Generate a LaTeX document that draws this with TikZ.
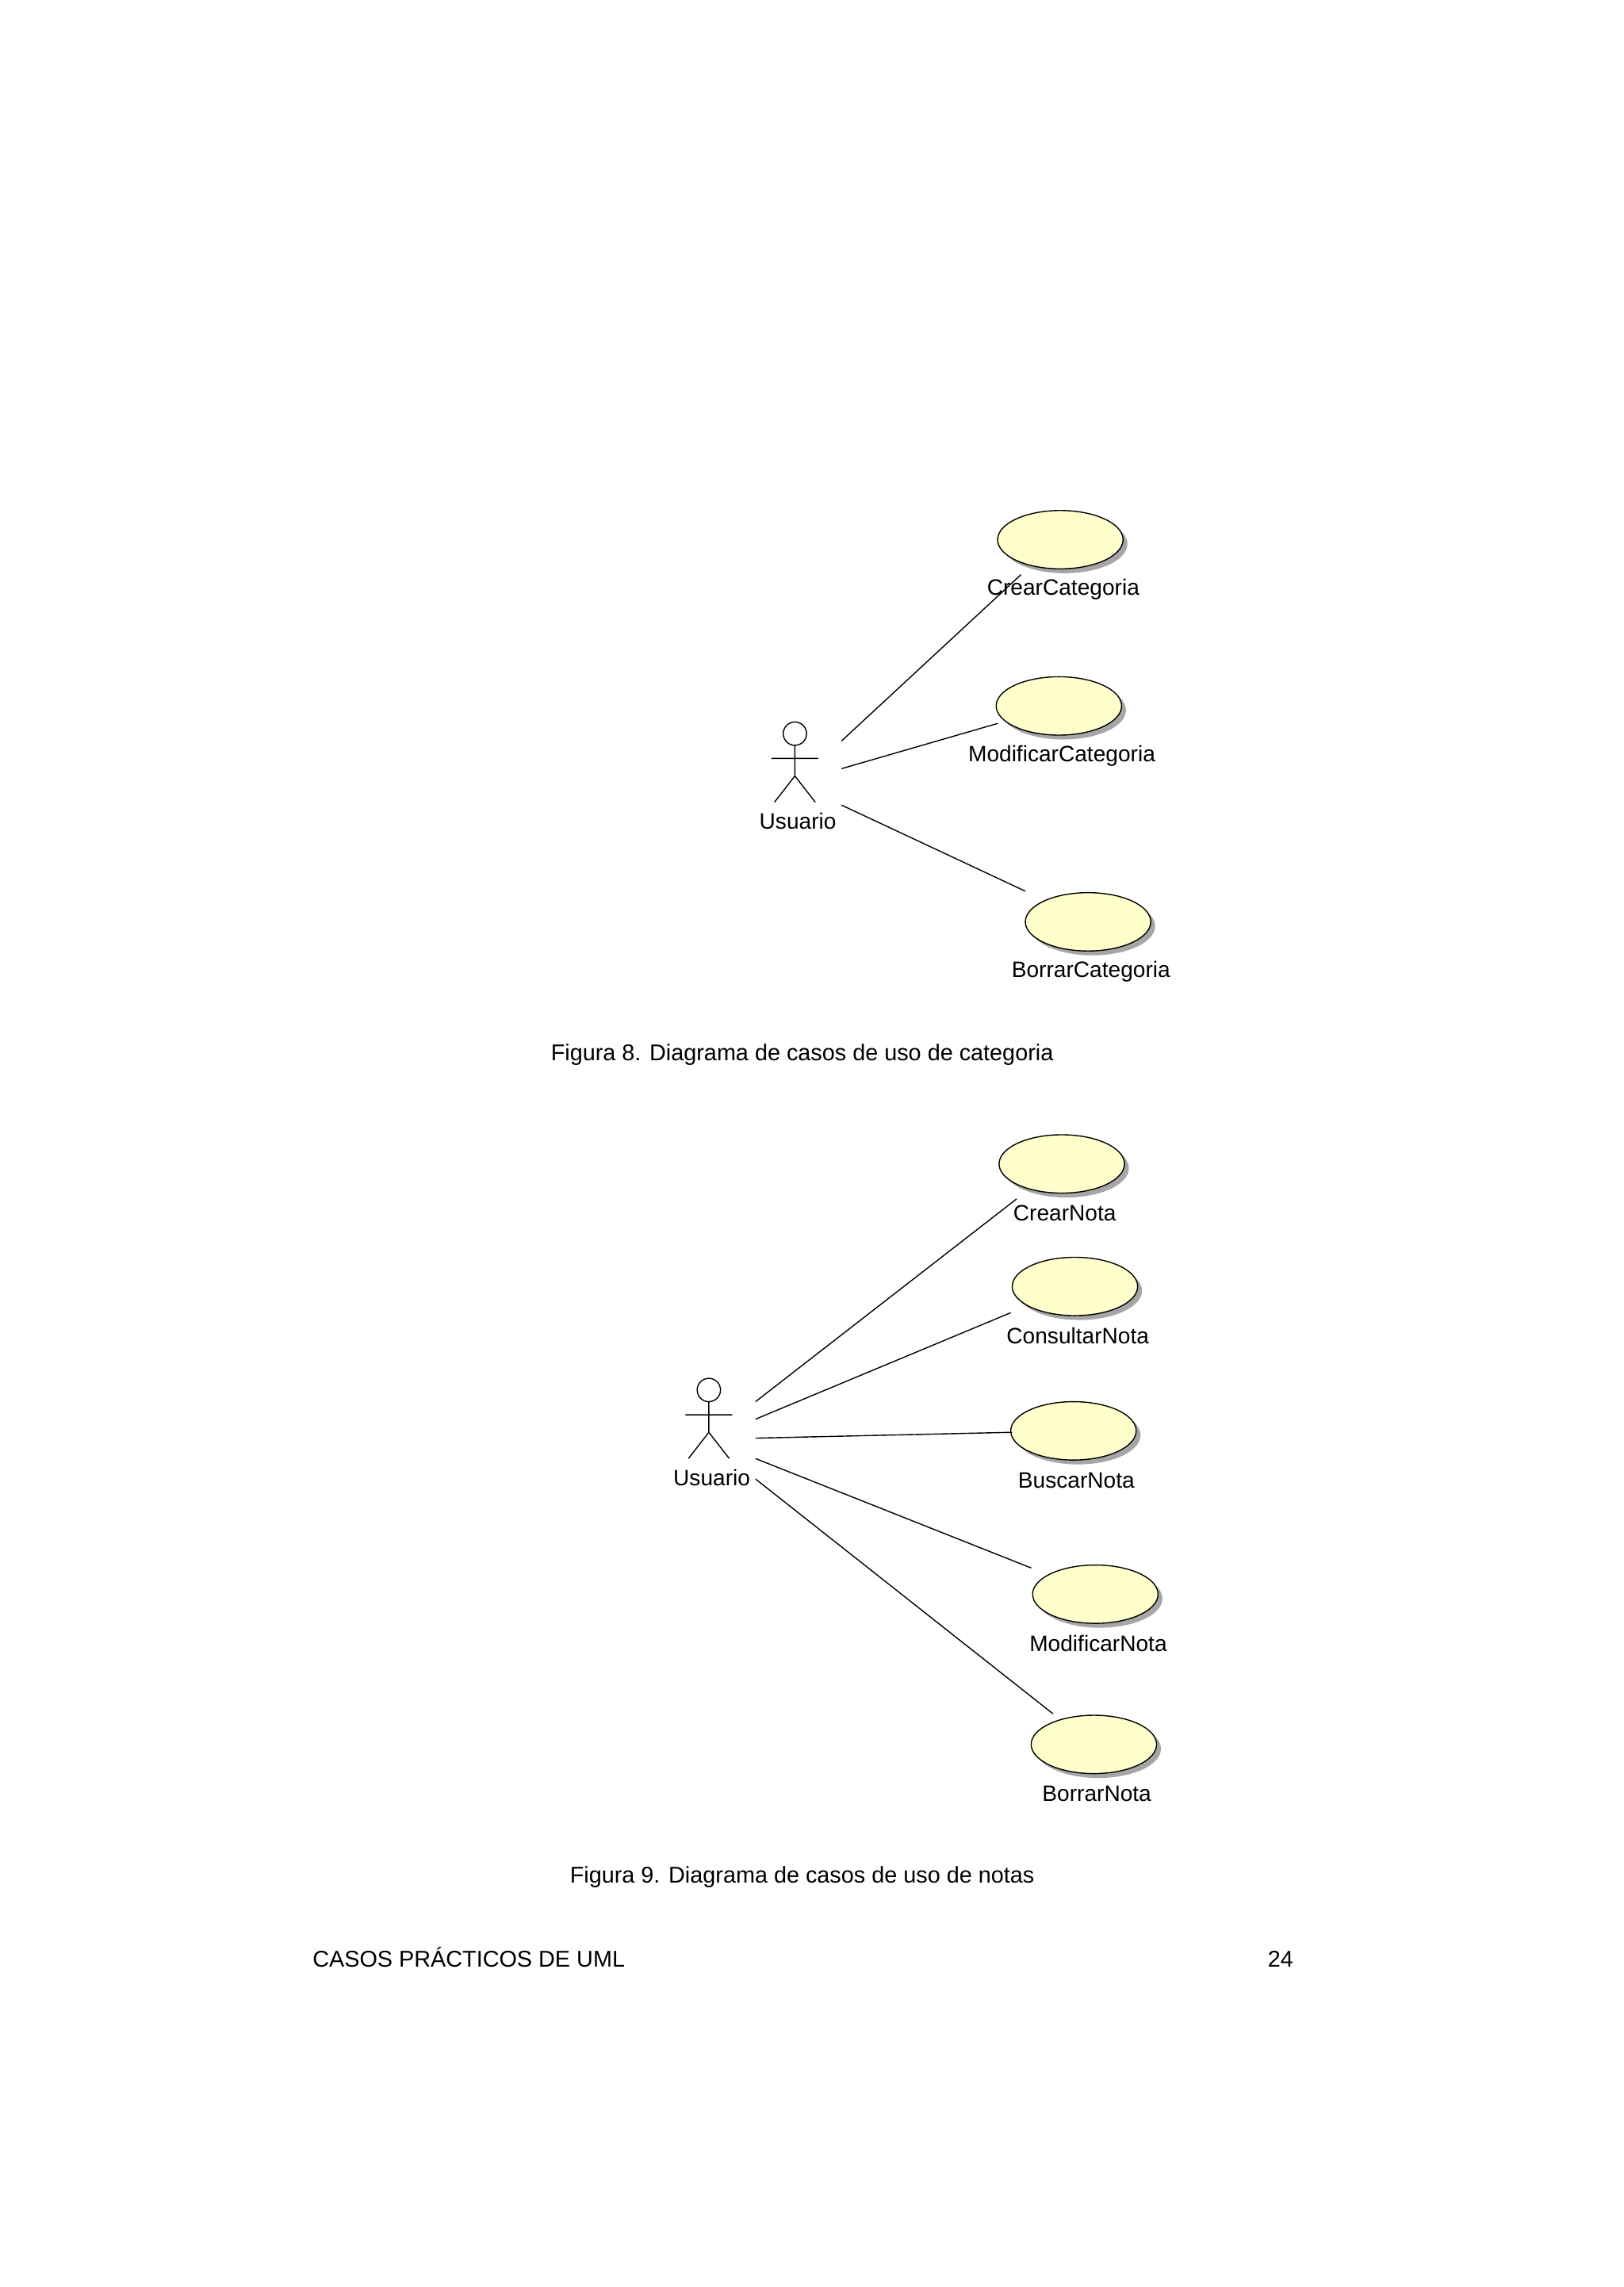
\documentclass[tikz,border=0pt]{standalone}
\usepackage{fontspec}
\setmainfont{Liberation Sans}
\begin{document}
\begin{tikzpicture}[x=0.0184cm,y=-0.0184cm,
 lbl/.style={font=\fontsize{8}{9}\selectfont,inner sep=0},
 captxt/.style={font=\fontsize{8.2}{10}\selectfont,inner sep=0},
 ln/.style={draw=black,line width=0.4pt}]
\useasboundingbox (0,0) rectangle (1113,1568);
\newcommand{\ucase}[4]{%
 \fill[gray!70] (#1+3,#2+3) ellipse [x radius=43,y radius=20];
 \draw[fill={rgb,255:red,255;green,255;blue,204}] (#1,#2) ellipse [x radius=43,y radius=20];
 \node[lbl] (#4) at (#1+2,#2+34) {#3};}
\newcommand{\actor}[3]{%
 \draw (#1,#2-17) circle (8);
 \draw (#1,#2-9) -- (#1,#2+12) (#1-16,#2) -- (#1+16,#2) (#1-14,#2+30) -- (#1,#2+12) -- (#1+14,#2+30);
 \node[lbl] (#3) at (#1+2,#2+43) {Usuario};}
% Figure 8
\ucase{727}{370}{CrearCategoria}{cc}
\ucase{726}{484}{ModificarCategoria}{mc}
\ucase{746}{632}{BorrarCategoria}{bc}
\actor{545}{520}{u1}
\coordinate (a1) at (577,508); \coordinate (b1) at (700,394);
\coordinate (a2) at (577,527); \coordinate (b2) at (684,496);
\coordinate (a3) at (577,552); \coordinate (b3) at (703,611);
\draw[ln] (a1)--(b1) (a2)--(b2) (a3)--(b3);
\node[captxt] (c8) at (550,723) {Figura 8. Diagrama de casos de uso de categoria};
% Figure 9
\ucase{728}{798}{CrearNota}{cn}
\ucase{737}{882}{ConsultarNota}{con}
\ucase{736}{981}{BuscarNota}{bn}
\ucase{751}{1093}{ModificarNota}{mn}
\ucase{750}{1196}{BorrarNota}{brn}
\actor{486}{970}{u2}
\coordinate (p1) at (518,961); \coordinate (q1) at (697,822);
\coordinate (p2) at (518,973); \coordinate (q2) at (693,900);
\coordinate (p3) at (518,986); \coordinate (q3) at (694,982);
\coordinate (p4) at (518,1000); \coordinate (q4) at (707,1075);
\coordinate (p5) at (518,1014); \coordinate (q5) at (722,1175);
\draw[ln] (p1)--(q1) (p2)--(q2) (p3)--(q3) (p4)--(q4) (p5)--(q5);
\node[captxt] (c9) at (550,1287) {Figura 9. Diagrama de casos de uso de notas};
\node[captxt,anchor=west] (ft) at (214,1342) {CASOS PRÁCTICOS DE UML};
\node[captxt] (pg) at (878,1343) {24};
\end{tikzpicture}
\end{document}
